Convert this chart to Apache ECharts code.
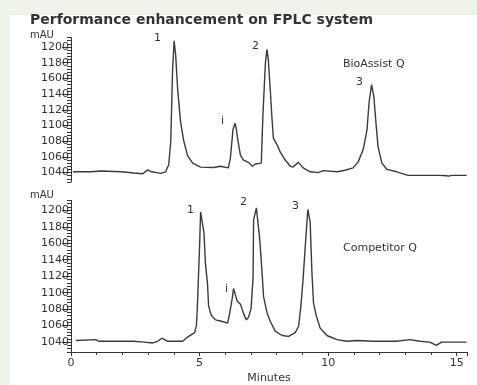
<!DOCTYPE html>
<html>
<head>
<meta charset="utf-8">
<script src="https://cdn.jsdelivr.net/npm/echarts@6/dist/echarts.min.js"></script>
<style>
  html, body { margin: 0; padding: 0; }
  #chart { width: 477px; height: 385px; }
</style>
</head>
<body>
<div id="chart"></div>
<script>
// 色谱数据：时间(分钟) 与 吸光度(mAU)
var topTime = [0.08, 0.78, 1.16, 1.94, 2.44, 2.79, 2.98, 3.14, 3.49, 3.68,
    3.80, 3.88, 3.95, 4.01, 4.07, 4.15, 4.26, 4.38, 4.53, 4.73,
    5.04, 5.54, 5.81, 6.12, 6.20, 6.30, 6.38, 6.43, 6.49, 6.59,
    6.71, 6.90, 7.05, 7.17, 7.40, 7.46, 7.56, 7.62, 7.67, 7.75,
    7.82, 7.87, 8.02, 8.14, 8.33, 8.53, 8.64, 8.84, 9.03, 9.30,
    9.61, 9.81, 10.35, 10.66, 10.97, 11.16, 11.36, 11.51, 11.59, 11.69,
    11.78, 11.86, 11.94, 12.09, 12.29, 12.67, 13.10, 14.34, 14.61, 14.69,
    14.81, 15.39];
var topSignal = [1041, 1041, 1042, 1041, 1039.5, 1038.5, 1043.5, 1041, 1039, 1041,
    1050, 1080, 1170, 1208, 1190, 1145, 1105, 1081, 1062, 1052,
    1047, 1046.5, 1048, 1046, 1059, 1095, 1103, 1095, 1081, 1062,
    1056, 1053, 1048, 1051, 1052, 1111, 1180, 1197, 1185, 1145,
    1107, 1084, 1075, 1066, 1056, 1048, 1047, 1053, 1046, 1041,
    1040, 1042.5, 1041, 1043, 1046, 1053, 1069, 1094, 1129, 1152,
    1136, 1103, 1073, 1052, 1044, 1041, 1036.5, 1036.5, 1036, 1035.5,
    1036.5, 1036.5];

var bottomTime = [0.19, 0.97, 1.09, 1.55, 2.44, 2.83, 3.18, 3.37, 3.53, 3.76,
    4.34, 4.53, 4.73, 4.81, 4.88, 4.92, 5.00, 5.04, 5.10, 5.17,
    5.23, 5.31, 5.35, 5.45, 5.62, 5.89, 6.09, 6.16, 6.27, 6.32,
    6.38, 6.46, 6.59, 6.72, 6.82, 6.90, 7.00, 7.08, 7.10, 7.21,
    7.34, 7.43, 7.49, 7.62, 7.75, 7.95, 8.21, 8.46, 8.72, 8.85,
    8.94, 9.02, 9.11, 9.21, 9.30, 9.37, 9.43, 9.53, 9.69, 9.95,
    10.34, 10.72, 11.11, 11.74, 12.66, 13.18, 13.57, 13.95, 14.21, 14.41,
    14.84, 15.38];
var bottomSignal = [1042, 1043, 1041, 1041, 1041, 1040, 1039, 1041, 1044.7, 1041,
    1041, 1046, 1050, 1051.5, 1061, 1087, 1156, 1198, 1199, 1173,
    1135, 1110, 1084, 1073, 1067, 1065, 1063, 1073, 1093, 1105,
    1104, 1090, 1086, 1074, 1067, 1070, 1080, 1118, 1188, 1203,
    1165, 1124, 1095, 1076, 1065, 1053, 1048, 1047, 1051.5, 1059,
    1084, 1114, 1156, 1201, 1186, 1124, 1088, 1073, 1057, 1048,
    1043, 1041, 1042, 1041, 1041, 1043, 1041, 1040, 1036, 1040,
    1040, 1040];

// 刻度
var yTickValues = [1040, 1060, 1080, 1100, 1120, 1140, 1160, 1180, 1200];
var yTickLabels = ['1040', '1060', '1080', '1100', '1120', '1140', '1600', '1180', '1200'];

function pairs(xs, ys) {
    return xs.map(function (x, i) { return [x, ys[i]]; });
}

var font = 'DejaVu Sans';
var ink = '#333';

function majorYAxis(gridIndex) {
    return {
        type: 'value', gridIndex: gridIndex, position: 'left', min: 1028, max: 1212,
        axisLine: {show: true, lineStyle: {color: ink, width: 1}},
        axisTick: {show: true, length: 9, customValues: yTickValues, lineStyle: {color: ink}},
        axisLabel: {
            customValues: yTickValues, margin: 2, color: ink, fontFamily: font, fontSize: 11,
            formatter: function (v) {
                var i = yTickValues.indexOf(v);
                return i >= 0 ? yTickLabels[i] : '';
            }
        },
        splitLine: {show: false}
    };
}
function minorYAxis(gridIndex) {
    return {
        type: 'value', gridIndex: gridIndex, position: 'left', offset: 0,
        min: 1028, max: 1212, interval: 4,
        axisLine: {show: false},
        axisTick: {show: true, length: 4, lineStyle: {color: ink}},
        axisLabel: {show: false},
        splitLine: {show: false}
    };
}

function txt(text, x, y, size, bold) {
    return {
        type: 'text', x: x, y: y, z: 10,
        style: {
            text: text, fill: ink,
            font: (bold ? 'bold ' : '') + size + 'px "' + font + '"',
            textVerticalAlign: 'middle', verticalAlign: 'middle'
        }
    };
}

var chart = echarts.init(document.getElementById('chart'));

var option = {
    backgroundColor: '#eef4e9',
    animation: false,
    graphic: [
        {type: 'rect', shape: {x: 10, y: 15, width: 467, height: 370}, style: {fill: '#fff'}, z: -10},
        txt('Performance enhancement on FPLC system', 30, 20, 14, true),
        txt('mAU', 30, 35, 10),
        txt('mAU', 30, 195, 10),
        txt('1', 154, 38, 11),
        txt('i', 221, 121, 11),
        txt('2', 252, 46, 11),
        txt('3', 356, 82, 11),
        txt('BioAssist Q', 343, 64, 11),
        txt('1', 187, 210, 11),
        txt('i', 225, 289, 11),
        txt('2', 240, 202, 11),
        txt('3', 292, 206, 11),
        txt('Competitor Q', 343, 248, 11)
    ],
    grid: [
        {left: 71, top: 37.6, width: 396, height: 144.4},
        {left: 71, top: 200.4, width: 396, height: 162}
    ],
    xAxis: [
        {type: 'value', gridIndex: 0, min: 0, max: 15.4, show: false},
        {
            type: 'value', gridIndex: 1, min: 0, max: 15.4, interval: 5,
            name: 'Minutes', nameLocation: 'middle', nameGap: 21,
            nameTextStyle: {color: ink, fontFamily: font, fontSize: 11},
            axisLine: {show: true, lineStyle: {color: ink, width: 1}},
            axisTick: {show: true, length: 4, lineStyle: {color: ink}},
            minorTick: {show: true, splitNumber: 5, length: 3, lineStyle: {color: ink}},
            axisLabel: {color: ink, fontFamily: font, fontSize: 11, margin: 6},
            splitLine: {show: false},
            minorSplitLine: {show: false}
        }
    ],
    yAxis: [majorYAxis(0), minorYAxis(0), majorYAxis(1), minorYAxis(1)],
    series: [
        {
            name: 'BioAssist Q', type: 'line', xAxisIndex: 0, yAxisIndex: 0,
            data: pairs(topTime, topSignal), showSymbol: false,
            lineStyle: {color: '#3a3a3a', width: 1.4}
        },
        {
            name: 'Competitor Q', type: 'line', xAxisIndex: 1, yAxisIndex: 2,
            data: pairs(bottomTime, bottomSignal), showSymbol: false,
            lineStyle: {color: '#3a3a3a', width: 1.4}
        }
    ]
};

chart.setOption(option);
</script>
</body>
</html>
